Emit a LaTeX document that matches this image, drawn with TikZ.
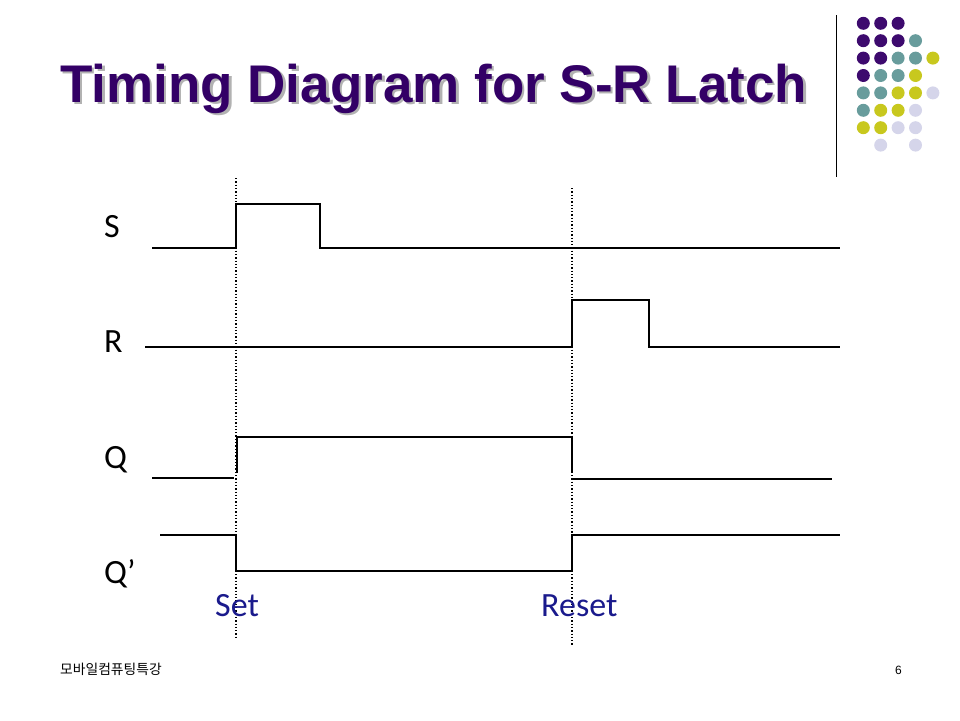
\documentclass[tikz,border=0pt]{standalone}
\usepackage{fontspec}
\setmainfont{Carlito}
\newfontfamily\titlefont{Liberation Sans}
\newfontfamily\kofont{Noto Sans CJK KR}
\usepackage{xcolor}
\definecolor{titlepurple}{HTML}{330066}
\definecolor{dotP}{HTML}{3D0A6E}
\definecolor{dotT}{HTML}{689C9C}
\definecolor{dotY}{HTML}{C8C81E}
\definecolor{dotL}{HTML}{D5D5EA}
\definecolor{evblue}{HTML}{1A1A8C}
\newcommand{\shadowtext}[1]{\makebox[0pt][l]{\hspace{2.5pt}\raisebox{-2.5pt}{\color{black!30}#1}}#1}
\tikzset{
    wave/.style={line width=2.5pt, line join=miter},
    mark line/.style={line width=1.3pt, dotted},
    sig/.style={anchor=base west, font=\fontsize{34}{38}\selectfont},
    event/.style={anchor=base west, text=evblue, font=\fontsize{34}{38}\selectfont},
}

\begin{document}
\begin{tikzpicture}[x=1pt, y=-1pt]
    \useasboundingbox (0,0) rectangle (960,720);

    % title with shadow
    \node[anchor=base west, inner sep=0, text=titlepurple, font=\titlefont\bfseries\fontsize{53}{60}\selectfont] (title) at (60,102) {\shadowtext{Timing Diagram for S-R Latch}};

    % logo
    \draw[line width=1pt] (836,15) -- (836,177);
    \foreach \row/\cols in {0/{0/P,1/P,2/P}, 1/{0/P,1/P,2/P,3/T}, 2/{0/P,1/P,2/T,3/T,4/Y},
        3/{0/P,1/T,2/T,3/Y}, 4/{0/T,1/T,2/Y,3/Y,4/L}, 5/{0/T,1/Y,2/Y,3/L},
        6/{0/Y,1/Y,2/L,3/L}, 7/{1/L,3/L}}
        \foreach \c/\col in \cols
            \fill[dot\col] (863.3+17.4*\c, 23.3+17.4*\row) circle (6.5);

    % event markers
    \draw[mark line] (236,178) -- (236,637);
    \draw[mark line] (572,188) -- (572,645);

    % signal names
    \node[sig, inner sep=0] (lS) at (104,237) {S};
    \node[sig, inner sep=0] (lR) at (104,352) {R};
    \node[sig, inner sep=0] (lQ) at (104,468) {Q};
    \node[sig, inner sep=0] (lQb) at (104,583) {Q’};

    % waveforms
    \draw[wave] (152,248) -- (236,248) -- (236,204) -- (320,204) -- (320,248) -- (840,248);
    \draw[wave] (145,347) -- (572,347) -- (572,300) -- (649,300) -- (649,347) -- (840,347);
    \draw[wave] (152,478) -- (234,478);
    \draw[wave] (237,473) -- (237,437) -- (572,437) -- (572,473);
    \draw[wave] (572,479) -- (832,479);
    \draw[wave] (160,535) -- (236,535) -- (236,571) -- (572,571) -- (572,535) -- (840,535);

    % events
    \node[event, inner sep=0] (set) at (215,616) {Set};
    \node[event, inner sep=0] (reset) at (541,616) {Reset};

    % footer
    \node[anchor=base west, inner sep=0, font=\kofont\fontsize{13.8}{16}\selectfont] (foot) at (60,674) {모바일컴퓨팅특강};
    \node[anchor=base east, inner sep=0, font=\titlefont\fontsize{12}{14}\selectfont] (page) at (902,674) {6};
\end{tikzpicture}
\end{document}
